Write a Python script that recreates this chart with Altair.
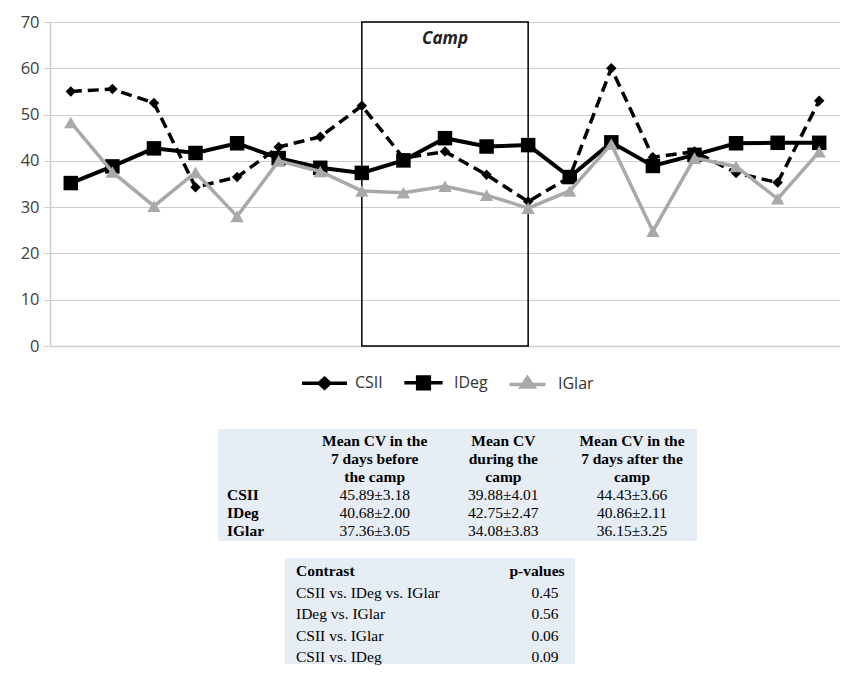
import altair as alt
import pandas as pd

# ---------------- data ----------------
days = [str(i) for i in range(1, 20)]
series_names = ["CSII", "IDeg", "IGlar"]
csii = [55, 55.5, 52.5, 34.3, 36.5, 43, 45.2, 51.9, 40.6, 42, 37, 31.2, 36.5, 60, 40.8, 42, 37.4, 35.3, 53]
ideg = [35.2, 38.8, 42.7, 41.7, 43.8, 40.6, 38.5, 37.4, 40.1, 44.9, 43.1, 43.4, 36.5, 44, 38.9, 41.3, 43.8, 43.9, 43.9]
iglar = [48.3, 37.6, 30.2, 37.5, 28, 40, 37.7, 33.5, 33.1, 34.5, 32.6, 29.8, 33.5, 43.6, 24.8, 40.6, 38.8, 31.8, 42]
camp_start, camp_end, camp_label_day = "8", "12", "10"
y_ticks = [0, 10, 20, 30, 40, 50, 60, 70]

t1_cols = ["label", "before", "during", "after"]
t1_rows = ["h1", "h2", "h3", "CSII", "IDeg", "IGlar"]
t1_head_before = ["Mean CV in the", "7 days before", "the camp"]
t1_head_during = ["Mean CV", "during the", "camp"]
t1_head_after = ["Mean CV in the", "7 days after the", "camp"]
t1_before = ["45.89±3.18", "40.68±2.00", "37.36±3.05"]
t1_during = ["39.88±4.01", "42.75±2.47", "34.08±3.83"]
t1_after = ["44.43±3.66", "40.86±2.11", "36.15±3.25"]

t2_rows = ["hdr", "r1", "r2", "r3", "r4"]
t2_contrasts = ["CSII vs. IDeg vs. IGlar", "IDeg vs. IGlar", "CSII vs. IGlar", "CSII vs. IDeg"]
t2_pvalues = ["0.45", "0.56", "0.06", "0.09"]

# ---------------- frames ----------------
df = pd.DataFrame({
    "day": days * 3,
    "series": ["CSII"] * 19 + ["IDeg"] * 19 + ["IGlar"] * 19,
    "value": csii + ideg + iglar,
})
camp_df = pd.DataFrame({"start": [camp_start], "end": [camp_end]})

grid_col = "#d3cbc7"
gray = "#a9a9a9"

xs = alt.Scale(type="point", domain=days, padding=0.5)
ys = alt.Scale(domain=[0, 70])

X = alt.X("day:O", scale=xs, axis=alt.Axis(labels=False, ticks=False, grid=False, title=None,
                                          domainColor=grid_col, domainWidth=1.5))
Y = alt.Y("value:Q", scale=ys, axis=alt.Axis(values=y_ticks, title=None, gridColor=grid_col,
                                            tickColor=grid_col, domainColor=grid_col, tickSize=6,
                                            labelPadding=5, labelFontSize=16.5, labelFont="Open Sans",
                                            labelColor="#404040", gridWidth=1.2, domainWidth=1.5))

base = alt.Chart(df)

def sel(name):
    return base.transform_filter(alt.datum.series == name)

grid_layer = base.mark_point(opacity=0).encode(x=X, y=Y)

camp_rect = alt.Chart(camp_df).mark_rect(fillOpacity=0, stroke="black", strokeWidth=1.5).encode(
    x=alt.X("start:O", scale=xs), x2="end:O", y=alt.datum(0), y2=alt.datum(70))
camp_text = alt.Chart(camp_df).mark_text(text="Camp", fontStyle="italic", fontWeight="bold",
                                         fontSize=17, font="Open Sans", color="#222").encode(
    x=alt.datum(camp_label_day), y=alt.datum(66.3))

csii_line = sel("CSII").mark_line(color="black", strokeWidth=3.5, strokeDash=[11, 6]).encode(x="day:O", y="value:Q")
csii_pts = sel("CSII").mark_point(shape="diamond", filled=True, size=110, color="black", opacity=1).encode(x="day:O", y="value:Q")
ideg_line = sel("IDeg").mark_line(color="black", strokeWidth=4).encode(x="day:O", y="value:Q")
ideg_pts = sel("IDeg").mark_point(shape="square", filled=True, size=210, color="black", opacity=1).encode(x="day:O", y="value:Q")
iglar_line = sel("IGlar").mark_line(color=gray, strokeWidth=3.5).encode(x="day:O", y="value:Q")
iglar_pts = sel("IGlar").mark_point(shape="triangle-up", filled=True, size=180, color=gray, opacity=1).encode(x="day:O", y="value:Q")

leg_paths = [
    "M-1,0H1M0,-0.22L0.24,0L0,0.22L-0.24,0Z",
    "M-0.85,0H0.85M-0.26,-0.26H0.26V0.26H-0.26Z",
    "M-0.8,0H0.8M0,-0.3L0.28,0.12H-0.28Z",
]
leg = alt.Legend(title=None, orient="none", legendX=250, legendY=336, direction="horizontal",
                 symbolSize=2025, symbolStrokeWidth=3.5, symbolOpacity=1, labelFontSize=16,
                 labelFont="Open Sans", labelColor="#333", labelOffset=6, columnPadding=14)
legend_layer = base.mark_point(opacity=0, filled=True).encode(
    x="day:O", y="value:Q",
    fill=alt.Fill("series:N", scale=alt.Scale(domain=series_names, range=["black", "black", gray]), legend=leg),
    stroke=alt.Stroke("series:N", scale=alt.Scale(domain=series_names, range=["black", "black", gray]), legend=leg),
    shape=alt.Shape("series:N", scale=alt.Scale(domain=series_names, range=leg_paths), legend=leg),
)

main = alt.layer(grid_layer, camp_rect, camp_text, csii_line, csii_pts, ideg_line, ideg_pts,
                 iglar_line, iglar_pts, legend_layer)

# ---------------- table 1 ----------------
t1_text = []
for i in range(3):
    t1_text.append({"col": "before", "row": t1_rows[i], "text": t1_head_before[i], "kind": "head"})
    t1_text.append({"col": "during", "row": t1_rows[i], "text": t1_head_during[i], "kind": "head"})
    t1_text.append({"col": "after", "row": t1_rows[i], "text": t1_head_after[i], "kind": "head"})
for i, r in enumerate(t1_rows[3:]):
    t1_text.append({"col": "label", "row": r, "text": r, "kind": "label"})
    t1_text.append({"col": "before", "row": r, "text": t1_before[i], "kind": "val"})
    t1_text.append({"col": "during", "row": r, "text": t1_during[i], "kind": "val"})
    t1_text.append({"col": "after", "row": r, "text": t1_after[i], "kind": "val"})
t1_df = pd.DataFrame(t1_text)

t1x = alt.X("col:N", scale=alt.Scale(type="point", domain=t1_cols, range=[196, 582], padding=0), axis=None)
t1y = alt.Y("row:N", scale=alt.Scale(type="point", domain=t1_rows, range=[419, 509], padding=0), axis=None)
serif = "Liberation Serif"
one = pd.DataFrame({"a": [0]})

t1_bg = alt.Chart(one).mark_rect(color="#e6edf5").encode(
    x=alt.value(168), x2=alt.value(647), y=alt.value(407), y2=alt.value(519))
t1_head = alt.Chart(t1_df).transform_filter(alt.datum.kind == "head").mark_text(
    font=serif, fontSize=15.5, fontWeight="bold", color="black").encode(x=t1x, y=t1y, text="text:N")
t1_lab = alt.Chart(t1_df).transform_filter(alt.datum.kind == "label").mark_text(
    font=serif, fontSize=15.5, fontWeight="bold", color="black", align="left", dx=-19).encode(x=t1x, y=t1y, text="text:N")
t1_val = alt.Chart(t1_df).transform_filter(alt.datum.kind == "val").mark_text(
    font=serif, fontSize=15.5, color="black").encode(x=t1x, y=t1y, text="text:N")
table1 = alt.layer(t1_bg, t1_head, t1_lab, t1_val)

# ---------------- table 2 ----------------
t2_df = pd.DataFrame({
    "row": t2_rows,
    "contrast": ["Contrast"] + t2_contrasts,
    "p": ["p-values"] + t2_pvalues,
    "bold": [True, False, False, False, False],
})
t2c = alt.Scale(type="point", domain=["contrast", "p"], range=[246, 487], padding=0)
t2y = alt.Y("row:N", scale=alt.Scale(type="point", domain=t2_rows, range=[549, 635], padding=0), axis=None)
t2_bg = alt.Chart(one).mark_rect(color="#e6edf5").encode(
    x=alt.value(235), x2=alt.value(525), y=alt.value(536), y2=alt.value(642))
t2_hc = alt.Chart(t2_df).transform_filter(alt.datum.bold).mark_text(
    font=serif, fontSize=15.5, fontWeight="bold", color="black", align="left").encode(
    x=alt.X("c:N", scale=t2c, axis=None), y=t2y, text="contrast:N").transform_calculate(c="'contrast'")
t2_hp = alt.Chart(t2_df).transform_filter(alt.datum.bold).mark_text(
    font=serif, fontSize=15.5, fontWeight="bold", color="black").encode(
    x=alt.X("c:N", scale=t2c, axis=None), y=t2y, text="p:N").transform_calculate(c="'p'")
t2_rc = alt.Chart(t2_df).transform_filter(~alt.datum.bold).mark_text(
    font=serif, fontSize=15.5, color="black", align="left").encode(
    x=alt.X("c:N", scale=t2c, axis=None), y=t2y, text="contrast:N").transform_calculate(c="'contrast'")
t2_rp = alt.Chart(t2_df).transform_filter(~alt.datum.bold).mark_text(
    font=serif, fontSize=15.5, color="black", dx=8).encode(
    x=alt.X("c:N", scale=t2c, axis=None), y=t2y, text="p:N").transform_calculate(c="'p'")
table2 = alt.layer(t2_bg, t2_hc, t2_hp, t2_rc, t2_rp)

chart = alt.layer(main, table1, table2).resolve_scale(x="independent", y="independent").properties(
    width=790, height=324,
    padding={"left": 12, "top": 6, "right": 0, "bottom": 0},
    background="white",
).configure_view(stroke=None)

chart.save("out.html", embed_options={"renderer": "svg", "actions": False})
